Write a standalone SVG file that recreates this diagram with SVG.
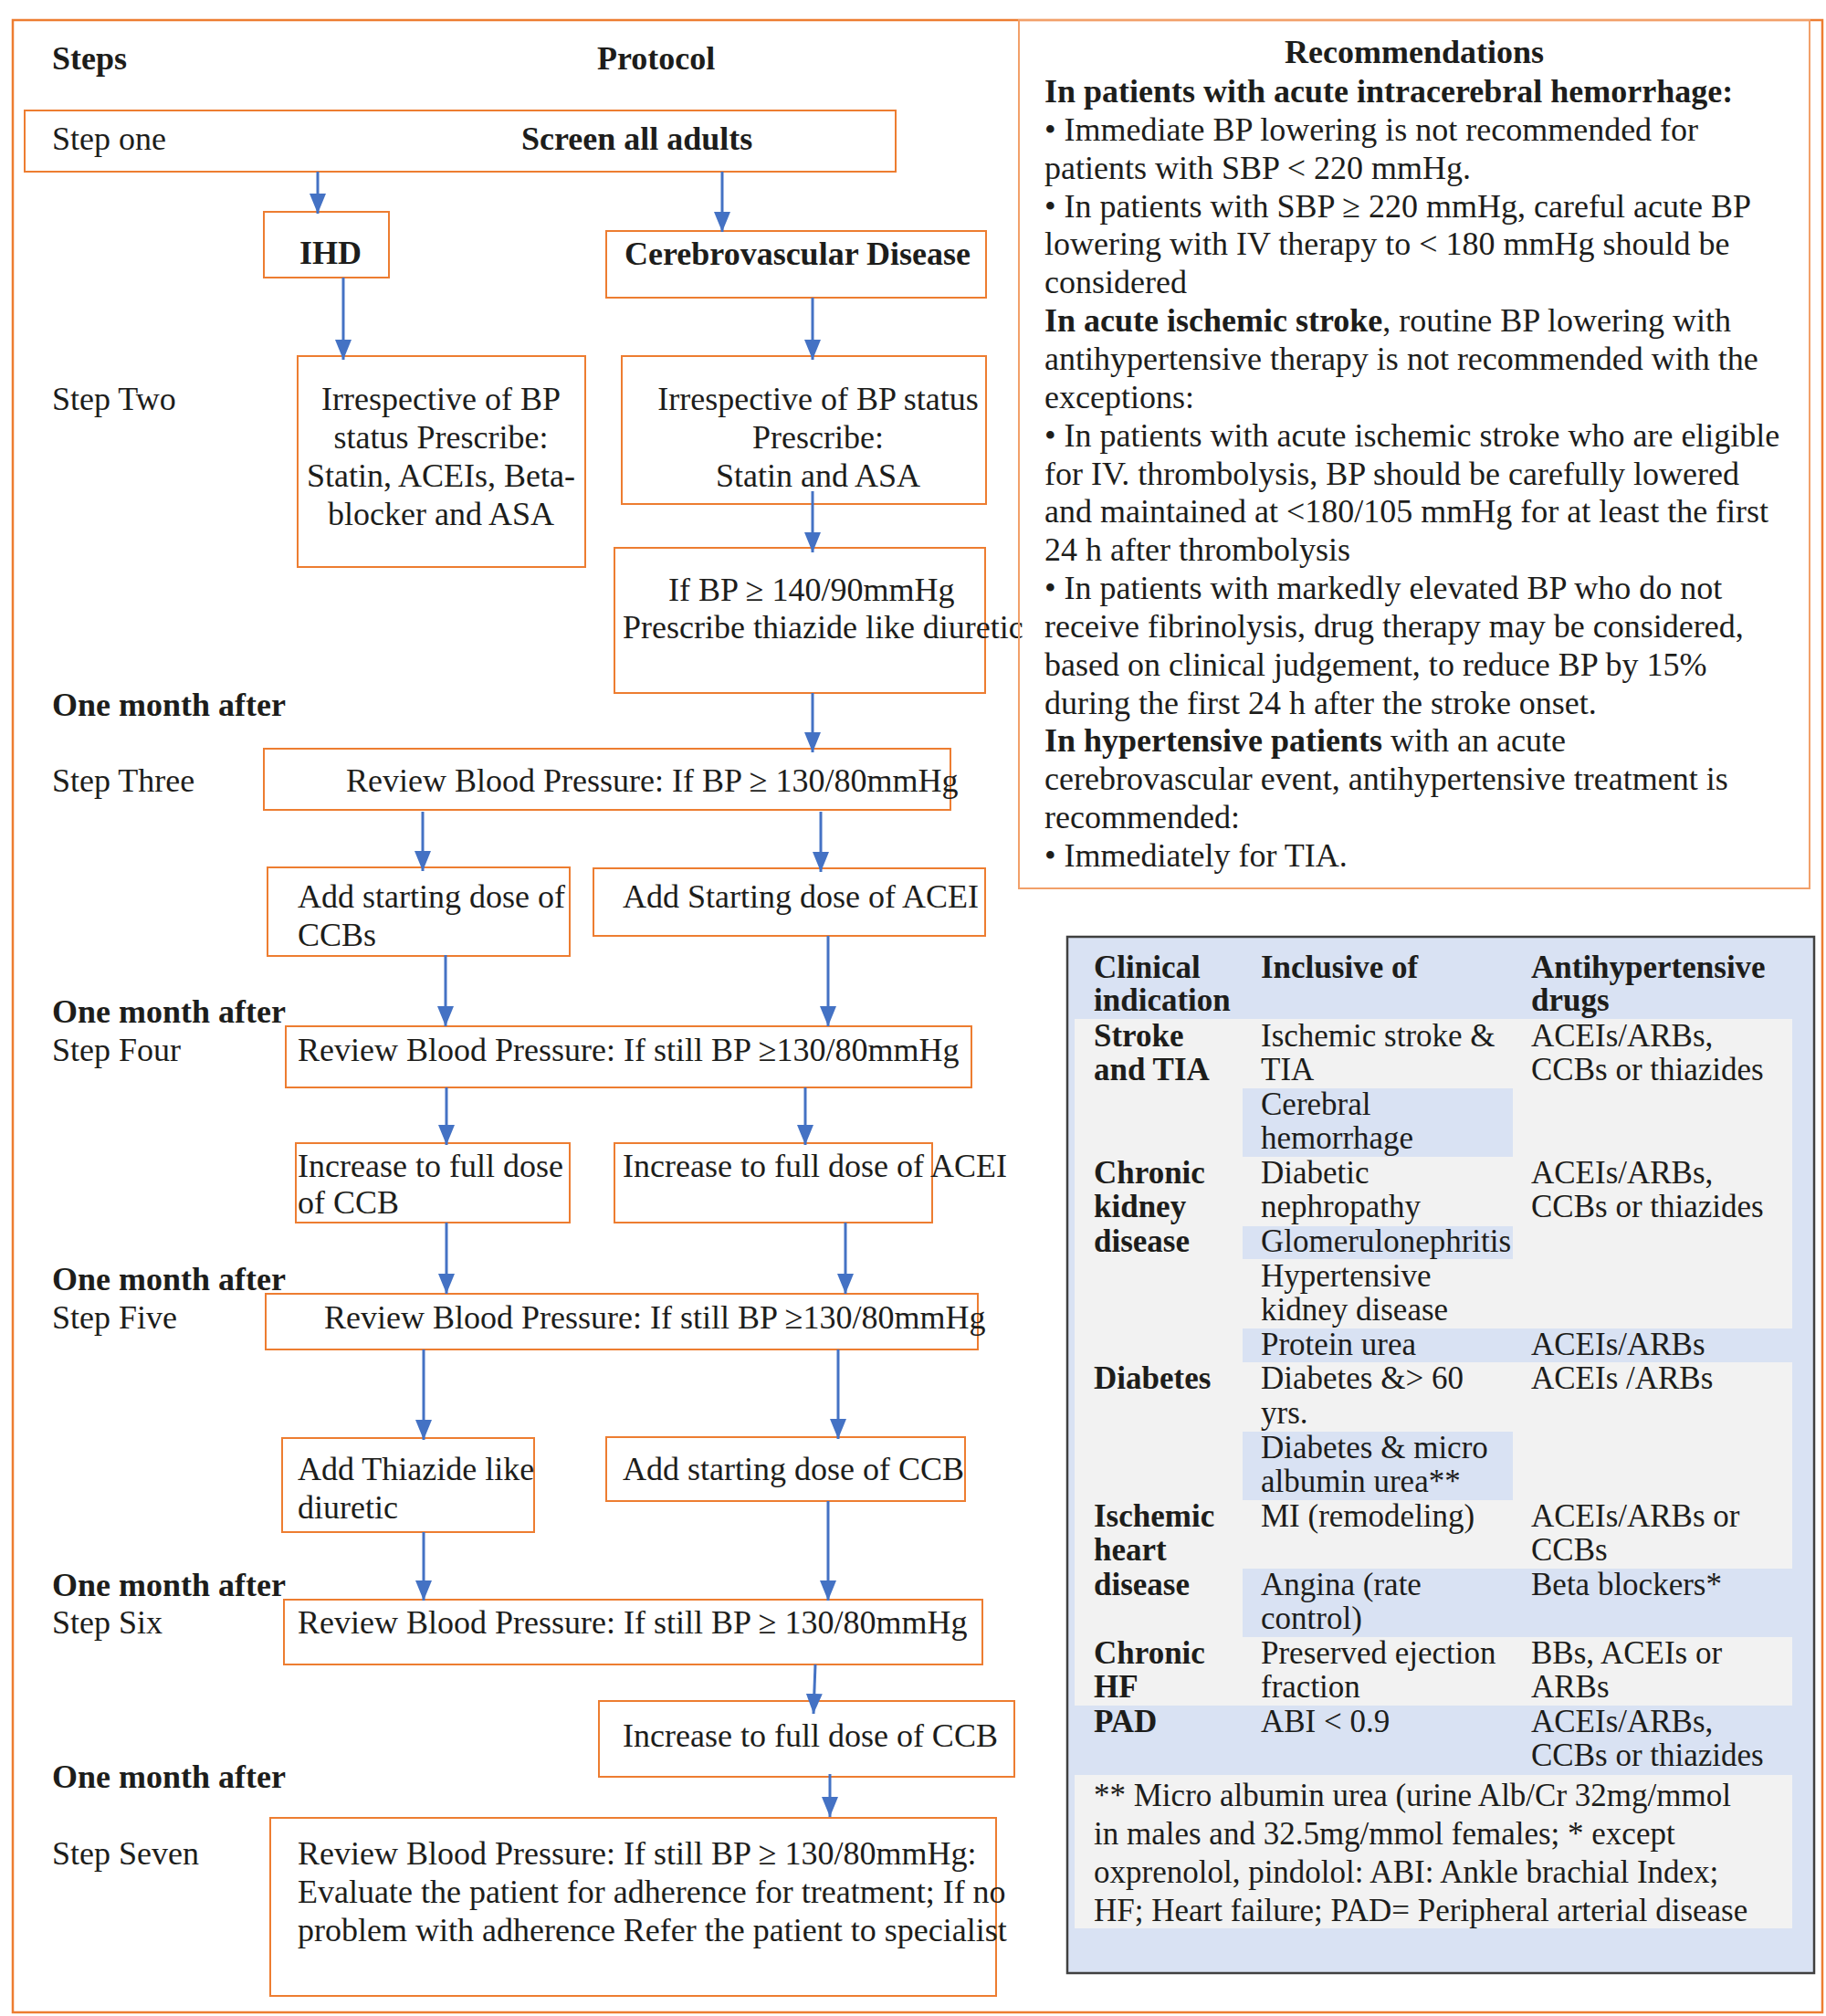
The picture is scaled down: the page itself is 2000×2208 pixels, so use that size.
<svg xmlns="http://www.w3.org/2000/svg" width="2000" height="2208" viewBox="0 0 2000 2208">
<style>
.t{font-family:"Liberation Serif","Times New Roman",serif;font-size:36px;fill:#1d1d1b}
.b{font-weight:bold}
.m{text-anchor:middle}
.tb{font-size:35px}
.box{fill:none;stroke:#ED7D31;stroke-width:2}
.frame{fill:none;stroke:#ED7D31;stroke-width:2.5}
.rec{fill:none;stroke:#F2A06A;stroke-width:2}
.conn line{stroke:#4472C4;stroke-width:3;marker-end:url(#ah)}
.gray{fill:#F2F2F2}
.blue{fill:#D9E2F3}
</style>
<defs>
<marker id="ah" markerUnits="userSpaceOnUse" viewBox="0 0 22 18" markerWidth="22" markerHeight="18" refX="22" refY="9" orient="auto">
<path d="M0,0 L22,9 L0,18 z" fill="#4472C4"/>
</marker>
</defs>
<rect width="2000" height="2208" fill="#ffffff"/>
<rect id="frame" class="frame" x="14" y="22" width="1982" height="2182"/>

<g id="headers">
<text class="t b" x="57" y="76">Steps</text>
<text class="t b" x="654" y="76">Protocol</text>
</g>

<g id="step-labels">
<text class="t" x="57" y="164">Step one</text>
<text class="t" x="57" y="449">Step Two</text>
<text class="t b" x="57" y="784">One month after</text>
<text class="t" x="57" y="867">Step Three</text>
<text class="t b" x="57" y="1120">One month after</text>
<text class="t" x="57" y="1162">Step Four</text>
<text class="t b" x="57" y="1413">One month after</text>
<text class="t" x="57" y="1455">Step Five</text>
<text class="t b" x="57" y="1748">One month after</text>
<text class="t" x="57" y="1789">Step Six</text>
<text class="t b" x="57" y="1958">One month after</text>
<text class="t" x="57" y="2042">Step Seven</text>
</g>

<g id="n-screen"><rect class="box" x="27" y="121" width="954" height="67"/><text class="t b" x="571" y="164">Screen all adults</text></g>
<g id="n-ihd"><rect class="box" x="289" y="232" width="137" height="72"/><text class="t b m" x="362" y="289">IHD</text></g>
<g id="n-cvd"><rect class="box" x="664" y="253" width="416" height="73"/><text class="t b" x="684" y="290">Cerebrovascular Disease</text></g>
<g id="n-ihd-rx"><rect class="box" x="326" y="390" width="315" height="231"/>
<text class="t m" x="483" y="449">Irrespective of BP</text>
<text class="t m" x="483" y="491">status Prescribe:</text>
<text class="t m" x="483" y="533">Statin, ACEIs, Beta-</text>
<text class="t m" x="483" y="575">blocker and ASA</text></g>
<g id="n-cvd-rx"><rect class="box" x="681" y="390" width="399" height="162"/>
<text class="t m" x="896" y="449">Irrespective of BP status</text>
<text class="t m" x="896" y="491">Prescribe:</text>
<text class="t m" x="896" y="533">Statin and ASA</text></g>
<g id="n-thz1"><rect class="box" x="673" y="600" width="406" height="159"/>
<text class="t" x="732" y="658">If BP ≥ 140/90mmHg</text>
<text class="t" x="682" y="699">Prescribe thiazide like diuretic</text></g>
<g id="n-step3"><rect class="box" x="289" y="820" width="752" height="67"/><text class="t" x="379" y="867">Review Blood Pressure: If BP ≥ 130/80mmHg</text></g>
<g id="n-ccb1"><rect class="box" x="293" y="950" width="331" height="97"/>
<text class="t" x="326" y="994">Add starting dose of</text>
<text class="t" x="326" y="1036">CCBs</text></g>
<g id="n-acei1"><rect class="box" x="650" y="951" width="429" height="74"/><text class="t" x="682" y="994">Add Starting dose of ACEI</text></g>
<g id="n-step4"><rect class="box" x="313" y="1124" width="751" height="67"/><text class="t" x="326" y="1162">Review Blood Pressure: If still BP ≥130/80mmHg</text></g>
<g id="n-ccb2"><rect class="box" x="324" y="1252" width="300" height="87"/>
<text class="t" x="326" y="1289">Increase to full dose</text>
<text class="t" x="326" y="1329">of CCB</text></g>
<g id="n-acei2"><rect class="box" x="673" y="1252" width="348" height="87"/><text class="t" x="682" y="1289">Increase to full dose of ACEI</text></g>
<g id="n-step5"><rect class="box" x="291" y="1417" width="780" height="61"/><text class="t" x="355" y="1455">Review Blood Pressure: If still BP ≥130/80mmHg</text></g>
<g id="n-thz2"><rect class="box" x="309" y="1575" width="276" height="103"/>
<text class="t" x="326" y="1621">Add Thiazide like</text>
<text class="t" x="326" y="1663">diuretic</text></g>
<g id="n-ccb3"><rect class="box" x="664" y="1574" width="393" height="70"/><text class="t" x="682" y="1621">Add starting dose of CCB</text></g>
<g id="n-step6"><rect class="box" x="311" y="1752" width="765" height="71"/><text class="t" x="326" y="1789">Review Blood Pressure: If still BP ≥ 130/80mmHg</text></g>
<g id="n-ccb4"><rect class="box" x="656" y="1863" width="455" height="83"/><text class="t" x="682" y="1913">Increase to full dose of CCB</text></g>
<g id="n-step7"><rect class="box" x="296" y="1991" width="795" height="195"/>
<text class="t" x="326" y="2042">Review Blood Pressure: If still BP ≥ 130/80mmHg:</text>
<text class="t" x="326" y="2084">Evaluate the patient for adherence for treatment; If no</text>
<text class="t" x="326" y="2126">problem with adherence Refer the patient to specialist</text></g>

<g id="connectors" class="conn">
<line x1="348" y1="188" x2="348" y2="234"/>
<line x1="791" y1="188" x2="791" y2="254"/>
<line x1="376" y1="304" x2="376" y2="394"/>
<line x1="890" y1="326" x2="890" y2="394"/>
<line x1="890" y1="538" x2="890" y2="605"/>
<line x1="890" y1="759" x2="890" y2="824"/>
<line x1="463" y1="889" x2="463" y2="954"/>
<line x1="899" y1="889" x2="899" y2="955"/>
<line x1="488" y1="1046" x2="488" y2="1124"/>
<line x1="907" y1="1025" x2="907" y2="1124"/>
<line x1="489" y1="1191" x2="489" y2="1254"/>
<line x1="882" y1="1191" x2="882" y2="1254"/>
<line x1="489" y1="1339" x2="489" y2="1417"/>
<line x1="926" y1="1339" x2="926" y2="1417"/>
<line x1="464" y1="1478" x2="464" y2="1577"/>
<line x1="918" y1="1478" x2="918" y2="1576"/>
<line x1="464" y1="1678" x2="464" y2="1753"/>
<line x1="907" y1="1644" x2="907" y2="1753"/>
<line x1="893" y1="1823" x2="891" y2="1877"/>
<line x1="909" y1="1943" x2="909" y2="1990"/>
</g>

<g id="recommendations">
<rect class="rec" x="1116" y="22" width="866" height="951"/>
<text class="t b m" x="1549" y="69">Recommendations</text>
<text class="t b" x="1144" y="112">In patients with acute intracerebral hemorrhage:</text>
<text class="t" x="1144" y="154">• Immediate BP lowering is not recommended for</text>
<text class="t" x="1144" y="196">patients with SBP &lt; 220 mmHg.</text>
<text class="t" x="1144" y="238">• In patients with SBP ≥ 220 mmHg, careful acute BP</text>
<text class="t" x="1144" y="279">lowering with IV therapy to &lt; 180 mmHg should be</text>
<text class="t" x="1144" y="321">considered</text>
<text class="t" x="1144" y="363"><tspan class="b">In acute ischemic stroke</tspan>, routine BP lowering with</text>
<text class="t" x="1144" y="405">antihypertensive therapy is not recommended with the</text>
<text class="t" x="1144" y="447">exceptions:</text>
<text class="t" x="1144" y="489">• In patients with acute ischemic stroke who are eligible</text>
<text class="t" x="1144" y="531">for IV. thrombolysis, BP should be carefully lowered</text>
<text class="t" x="1144" y="572">and maintained at &lt;180/105 mmHg for at least the first</text>
<text class="t" x="1144" y="614">24 h after thrombolysis</text>
<text class="t" x="1144" y="656">• In patients with markedly elevated BP who do not</text>
<text class="t" x="1144" y="698">receive fibrinolysis, drug therapy may be considered,</text>
<text class="t" x="1144" y="740">based on clinical judgement, to reduce BP by 15%</text>
<text class="t" x="1144" y="782">during the first 24 h after the stroke onset.</text>
<text class="t" x="1144" y="823"><tspan class="b">In hypertensive patients</tspan> with an acute</text>
<text class="t" x="1144" y="865">cerebrovascular event, antihypertensive treatment is</text>
<text class="t" x="1144" y="907">recommended:</text>
<text class="t" x="1144" y="949">• Immediately for TIA.</text>
</g>

<g id="table">
<rect x="1169" y="1026" width="818" height="1135" fill="#D9E2F3" stroke="#404040" stroke-width="2.5"/>
<rect class="gray" x="1177" y="1116" width="786" height="752"/>
<rect class="blue" x="1361" y="1192" width="296" height="75"/>
<rect class="blue" x="1361" y="1343" width="296" height="36"/>
<rect class="blue" x="1361" y="1455" width="602" height="37"/>
<rect class="blue" x="1361" y="1568" width="296" height="75"/>
<rect class="blue" x="1361" y="1718" width="602" height="75"/>
<rect class="gray" x="1177" y="1944" width="786" height="168"/>
<g class="t tb">
<text class="b" x="1198" y="1071">Clinical</text>
<text class="b" x="1198" y="1107">indication</text>
<text class="b" x="1381" y="1071">Inclusive of</text>
<text class="b" x="1677" y="1071">Antihypertensive</text>
<text class="b" x="1677" y="1107">drugs</text>
<text class="b" x="1198" y="1146">Stroke</text>
<text class="b" x="1198" y="1183">and TIA</text>
<text x="1381" y="1146">Ischemic stroke &amp;</text>
<text x="1381" y="1183">TIA</text>
<text x="1677" y="1146">ACEIs/ARBs,</text>
<text x="1677" y="1183">CCBs or thiazides</text>
<text x="1381" y="1221">Cerebral</text>
<text x="1381" y="1258">hemorrhage</text>
<text class="b" x="1198" y="1296">Chronic</text>
<text class="b" x="1198" y="1333">kidney</text>
<text class="b" x="1198" y="1371">disease</text>
<text x="1381" y="1296">Diabetic</text>
<text x="1381" y="1333">nephropathy</text>
<text x="1677" y="1296">ACEIs/ARBs,</text>
<text x="1677" y="1333">CCBs or thiazides</text>
<text x="1381" y="1371">Glomerulonephritis</text>
<text x="1381" y="1409">Hypertensive</text>
<text x="1381" y="1446">kidney disease</text>
<text x="1381" y="1484">Protein urea</text>
<text x="1677" y="1484">ACEIs/ARBs</text>
<text class="b" x="1198" y="1521">Diabetes</text>
<text x="1381" y="1521">Diabetes &amp;&gt; 60</text>
<text x="1381" y="1559">yrs.</text>
<text x="1677" y="1521">ACEIs /ARBs</text>
<text x="1381" y="1597">Diabetes &amp; micro</text>
<text x="1381" y="1634">albumin urea**</text>
<text class="b" x="1198" y="1672">Ischemic</text>
<text class="b" x="1198" y="1709">heart</text>
<text class="b" x="1198" y="1747">disease</text>
<text x="1381" y="1672">MI (remodeling)</text>
<text x="1677" y="1672">ACEIs/ARBs or</text>
<text x="1677" y="1709">CCBs</text>
<text x="1381" y="1747">Angina (rate</text>
<text x="1381" y="1784">control)</text>
<text x="1677" y="1747">Beta blockers*</text>
<text class="b" x="1198" y="1822">Chronic</text>
<text class="b" x="1198" y="1859">HF</text>
<text x="1381" y="1822">Preserved ejection</text>
<text x="1381" y="1859">fraction</text>
<text x="1677" y="1822">BBs, ACEIs or</text>
<text x="1677" y="1859">ARBs</text>
<text class="b" x="1198" y="1897">PAD</text>
<text x="1381" y="1897">ABI &lt; 0.9</text>
<text x="1677" y="1897">ACEIs/ARBs,</text>
<text x="1677" y="1934">CCBs or thiazides</text>
<text x="1198" y="1978">** Micro albumin urea (urine Alb/Cr 32mg/mmol</text>
<text x="1198" y="2020">in males and 32.5mg/mmol females; * except</text>
<text x="1198" y="2062">oxprenolol, pindolol: ABI: Ankle brachial Index;</text>
<text x="1198" y="2104">HF; Heart failure; PAD= Peripheral arterial disease</text>
</g>
</g>
</svg>
